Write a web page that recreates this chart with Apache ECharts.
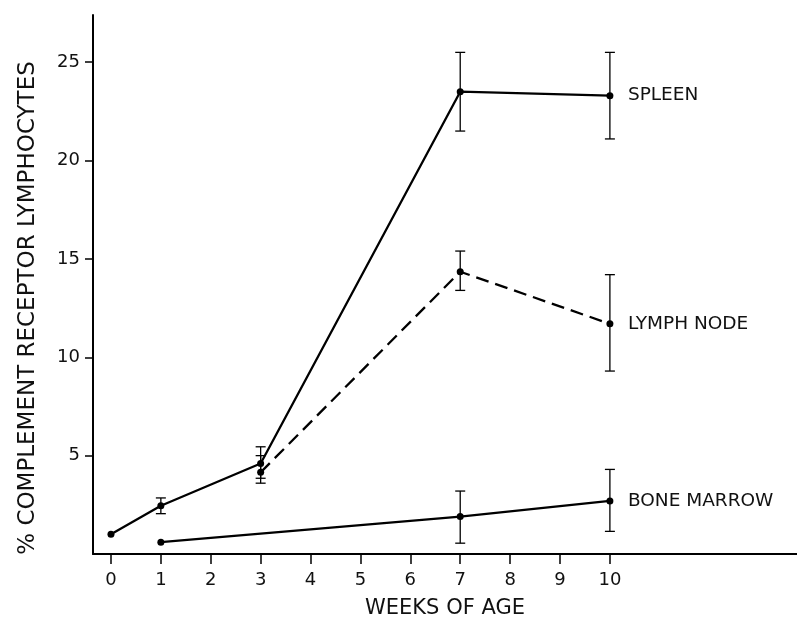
<!DOCTYPE html>
<html>
<head>
<meta charset="utf-8">
<script src="https://cdn.jsdelivr.net/npm/echarts@6/dist/echarts.min.js"></script>
<style>
  html, body { margin: 0; padding: 0; background: #fff; }
  #chart { width: 797px; height: 623px; }
</style>
</head>
<body>
<div id="chart"></div>
<script>
// weeks of age and values (% complement receptor lymphocytes)
var spleenWeeks = [0, 1, 3, 7, 10];
var spleenVals  = [1.0, 2.45, 4.6, 23.5, 23.3];
var spleenLow   = [null, 2.05, 3.85, 21.5, 21.1];
var spleenHigh  = [null, 2.85, 5.45, 25.5, 25.5];

var lymphWeeks = [3, 7, 10];
var lymphVals  = [4.15, 14.35, 11.7];
var lymphLow   = [3.6, 13.4, 9.3];
var lymphHigh  = [5.0, 15.4, 14.2];

var marrowWeeks = [1, 7, 10];
var marrowVals  = [0.6, 1.9, 2.7];
var marrowLow   = [null, 0.55, 1.15];
var marrowHigh  = [null, 3.2, 4.3];

var xTicks = [0, 1, 2, 3, 4, 5, 6, 7, 8, 9, 10];
var yTicks = [5, 10, 15, 20, 25];

var FONT = 'DejaVu Sans';

function pts(w, v) {
    return w.map(function (x, i) { return [x, v[i]]; });
}
function bars(w, lo, hi) {
    var out = [];
    w.forEach(function (x, i) {
        if (lo[i] != null) out.push([x, lo[i], hi[i]]);
    });
    return out;
}

function lineSeries(name, data, dashed) {
    return {
        name: name,
        type: 'line',
        data: data,
        symbol: 'circle',
        symbolSize: 7,
        itemStyle: { color: '#000' },
        lineStyle: { color: '#000', width: 2.3, type: dashed ? [13, 7] : 'solid' },
        endLabel: {
            show: true,
            formatter: name,
            distance: 18,
            color: '#111',
            fontFamily: FONT,
            fontSize: 18.5
        },
        silent: true,
        z: 3
    };
}

// vertical error bar with caps, positioned through the axes
function errorSeries(data) {
    return {
        type: 'custom',
        data: data,
        silent: true,
        z: 2,
        renderItem: function (params, api) {
            var top = api.coord([api.value(0), api.value(2)]);
            var bot = api.coord([api.value(0), api.value(1)]);
            var hw = 5;
            var st = { stroke: '#000', lineWidth: 1.3 };
            return {
                type: 'group',
                children: [
                    { type: 'line', shape: { x1: top[0], y1: top[1], x2: bot[0], y2: bot[1] }, style: st },
                    { type: 'line', shape: { x1: top[0] - hw, y1: top[1], x2: top[0] + hw, y2: top[1] }, style: st },
                    { type: 'line', shape: { x1: bot[0] - hw, y1: bot[1], x2: bot[0] + hw, y2: bot[1] }, style: st }
                ]
            };
        }
    };
}

var myChart = echarts.init(document.getElementById('chart'));
var option = {
    backgroundColor: '#fff',
    animation: false,
    grid: { left: 93, right: 0, top: 15, bottom: 69, outerBoundsMode: 'none' },
    // y axis title sits lower than the plot centre in the original
    graphic: [{
        type: 'text',
        x: 28,
        y: 308,
        rotation: Math.PI / 2,
        style: {
            text: '% COMPLEMENT RECEPTOR LYMPHOCYTES',
            fill: '#111',
            font: '23px "DejaVu Sans"',
            align: 'center',
            verticalAlign: 'middle'
        }
    }],
    xAxis: {
        type: 'value',
        min: -0.36,
        max: 13.75,
        splitLine: { show: false },
        axisLine: { show: true, lineStyle: { color: '#000', width: 2 } },
        axisTick: { show: true, customValues: xTicks, length: 10, lineStyle: { color: '#000', width: 1.5 } },
        axisLabel: { customValues: xTicks, color: '#111', fontFamily: FONT, fontSize: 18, margin: 17 },
        name: 'WEEKS OF AGE',
        nameLocation: 'middle',
        nameGap: 44,
        nameTextStyle: { color: '#111', fontFamily: FONT, fontSize: 21 }
    },
    yAxis: {
        type: 'value',
        min: 0,
        max: 27.4,
        splitLine: { show: false },
        axisLine: { show: true, onZero: false, lineStyle: { color: '#000', width: 2 } },
        axisTick: { show: true, customValues: yTicks, length: 8, lineStyle: { color: '#000', width: 1.5 } },
        axisLabel: { customValues: yTicks, color: '#111', fontFamily: FONT, fontSize: 18, margin: 13 }
    },
    series: [
        errorSeries(bars(spleenWeeks, spleenLow, spleenHigh)),
        errorSeries(bars(lymphWeeks, lymphLow, lymphHigh)),
        errorSeries(bars(marrowWeeks, marrowLow, marrowHigh)),
        lineSeries('SPLEEN', pts(spleenWeeks, spleenVals), false),
        lineSeries('LYMPH NODE', pts(lymphWeeks, lymphVals), true),
        lineSeries('BONE MARROW', pts(marrowWeeks, marrowVals), false)
    ]
};
myChart.setOption(option);
window.addEventListener('resize', function () {
    myChart.resize();
});
</script>
</body>
</html>
